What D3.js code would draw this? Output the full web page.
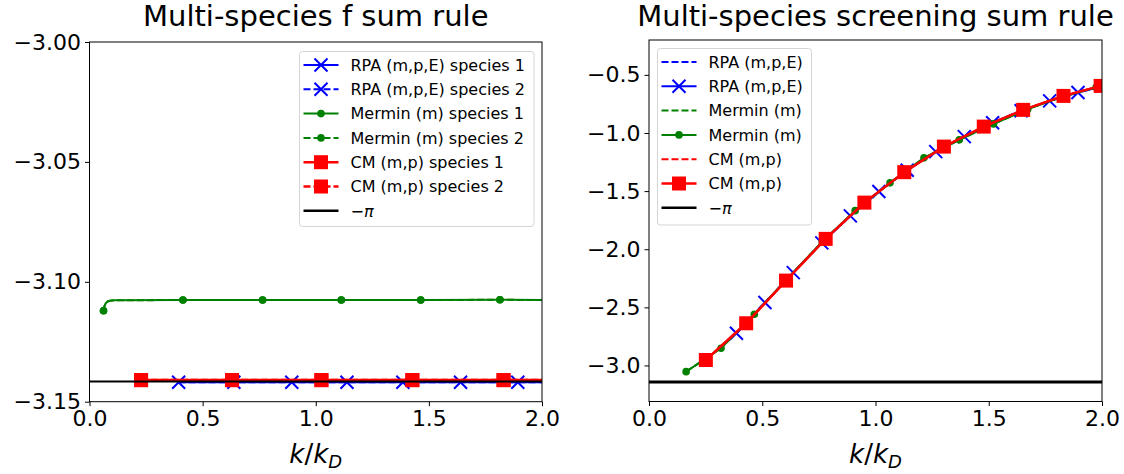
<!DOCTYPE html>
<html>
<head>
<meta charset="utf-8">
<script src="https://cdn.jsdelivr.net/npm/d3@7"></script>
<style>
  body { margin: 0; background: #fff; }
  svg { font-family: "DejaVu Sans", sans-serif; }
</style>
</head>
<body>
<svg id="chart" width="1124" height="474"></svg>
<script>
// ---- data: left panel (f sum rule) ----
var fRpaK = [0.394, 0.638, 0.894, 1.138, 1.385, 1.640, 1.893, 2.0];
var fRpaSp1 = [-3.1419, -3.1419, -3.1419, -3.1419, -3.1419, -3.1419, -3.1419, -3.1419];
var fRpaSp2 = [-3.1419, -3.1419, -3.1419, -3.1419, -3.1419, -3.1419, -3.1419, -3.1419];
var fRpaMarks1 = [0, 2, 4, 6];
var fRpaMarks2 = [1, 3, 5];

var fMerminK = [0.062, 0.066, 0.072, 0.080, 0.090, 0.110, 0.413, 0.765, 1.113, 1.464, 1.814, 2.0];
var fMerminSp1 = [-3.1121, -3.1101, -3.1089, -3.1082, -3.1079, -3.1077, -3.1076, -3.1076, -3.1076, -3.1076, -3.1075, -3.1076];
var fMerminSp2 = [-3.1121, -3.1101, -3.1089, -3.1082, -3.1079, -3.1077, -3.1076, -3.1076, -3.1076, -3.1076, -3.1075, -3.1076];
var fMerminMarks = [0, 6, 7, 8, 9, 10];

var fCmK = [0.228, 0.630, 1.025, 1.427, 1.830, 2.0];
var fCmSp1 = [-3.1410, -3.1410, -3.1410, -3.1410, -3.1410, -3.1410];
var fCmSp2 = [-3.1410, -3.1410, -3.1410, -3.1410, -3.1410, -3.1410];
var fCmMarks = [0, 1, 2, 3, 4];

// ---- data: right panel (screening sum rule) ----
var sRpaK = [0.386, 0.512, 0.637, 0.763, 0.889, 1.015, 1.140, 1.266, 1.392, 1.517, 1.643, 1.769, 1.894, 2.0];
var sRpa = [-2.723, -2.459, -2.201, -1.945, -1.713, -1.504, -1.320, -1.160, -1.031, -0.912, -0.808, -0.724, -0.652, -0.600];
var sRpaMarks = [0, 1, 2, 3, 4, 5, 6, 7, 8, 9, 10, 11, 12];

var sMerminK = [0.164, 0.318, 0.465, 0.615, 0.765, 0.910, 1.064, 1.214, 1.370, 1.521, 1.672, 1.823, 1.974, 2.0];
var sMermin = [-3.053, -2.852, -2.560, -2.245, -1.935, -1.668, -1.429, -1.214, -1.059, -0.922, -0.795, -0.689, -0.606, -0.596];
var sMerminMarks = [0, 1, 2, 3, 4, 5, 6, 7, 8, 9, 10, 11, 12];

var sCmK = [0.251, 0.429, 0.605, 0.780, 0.951, 1.127, 1.302, 1.478, 1.652, 1.830, 1.994];
var sCm = [-2.953, -2.637, -2.270, -1.911, -1.599, -1.337, -1.117, -0.945, -0.801, -0.681, -0.595];
var sCmMarks = [0, 1, 2, 3, 4, 5, 6, 7, 8, 9, 10];

var xTicks = [0, 0.5, 1.0, 1.5, 2.0];
var fYTicks = [-3.15, -3.10, -3.05, -3.00];
var sYTicks = [-3.0, -2.5, -2.0, -1.5, -1.0, -0.5];
var minusPi = -Math.PI;

var BLUE = "#0000ff", GREEN = "#008000", RED = "#ff0000";
var DASH = "7,3";

var svg = d3.select("#chart");

function drawMarker(g, type, x, y, color) {
    if (type == "x") {
        var s = 6.5;
        g.append("path")
            .attr("d", "M" + (x - s) + "," + (y - s) + "L" + (x + s) + "," + (y + s) +
                       "M" + (x - s) + "," + (y + s) + "L" + (x + s) + "," + (y - s))
            .attr("stroke", color).attr("stroke-width", 2).attr("fill", "none");
    } else if (type == "square") {
        g.append("rect")
            .attr("x", x - 7).attr("y", y - 7)
            .attr("width", 14).attr("height", 14)
            .attr("fill", color);
    } else if (type == "dot") {
        g.append("circle")
            .attr("cx", x).attr("cy", y).attr("r", 3.8)
            .attr("fill", color);
    }
}

function drawPanel(p) {
    var x = d3.scaleLinear().domain([0, 2]).range([p.left, p.right]);
    var y = d3.scaleLinear().domain(p.yDomain).range([p.bottom, p.top]);

    var clipId = "clip-" + p.id;
    svg.append("clipPath").attr("id", clipId)
        .append("rect")
        .attr("x", p.left).attr("y", p.top)
        .attr("width", p.right - p.left).attr("height", p.bottom - p.top);

    var plot = svg.append("g").attr("clip-path", "url(#" + clipId + ")");

    p.series.forEach(function(s) {
        var pts = s.k.map(function(k, i) { return [k, s.v[i]]; });
        var line = d3.line()
            .x(function(d) { return x(d[0]); })
            .y(function(d) { return y(d[1]); });
        if (s.hline) {
            plot.append("line")
                .attr("x1", p.left).attr("x2", p.right)
                .attr("y1", y(s.hline)).attr("y2", y(s.hline))
                .attr("stroke", s.color).attr("stroke-width", s.width);
            return;
        }
        plot.append("path")
            .attr("d", line(pts))
            .attr("fill", "none")
            .attr("stroke", s.color)
            .attr("stroke-width", s.width)
            .attr("stroke-dasharray", s.dash ? DASH : null);
        if (s.marker) {
            s.marks.forEach(function(i) {
                drawMarker(plot, s.marker, x(s.k[i]), y(s.v[i]), s.color);
            });
        }
    });

    // frame
    svg.append("rect")
        .attr("x", p.left).attr("y", p.top)
        .attr("width", p.right - p.left).attr("height", p.bottom - p.top)
        .attr("fill", "none").attr("stroke", "#000").attr("stroke-width", 1);

    var xAxis = svg.append("g")
        .attr("transform", "translate(0," + p.bottom + ")")
        .call(d3.axisBottom(x).tickValues(xTicks).tickFormat(d3.format(".1f")).tickSize(4.5).tickPadding(4));
    var yAxis = svg.append("g")
        .attr("transform", "translate(" + p.left + ",0)")
        .call(d3.axisLeft(y).tickValues(p.yTicks).tickFormat(d3.format(p.yFmt)).tickSize(4.5).tickPadding(4));
    [xAxis, yAxis].forEach(function(a) {
        a.select(".domain").remove();
        a.selectAll("text").attr("font-size", 22).attr("fill", "#000")
            .attr("font-family", "DejaVu Sans");
        a.selectAll("line").attr("stroke", "#000");
    });

    // title
    svg.append("text")
        .attr("x", (p.left + p.right) / 2).attr("y", 26)
        .attr("text-anchor", "middle")
        .attr("font-size", 29)
        .text(p.title);

    // x label k/k_D
    var lab = svg.append("text")
        .attr("x", (p.left + p.right) / 2).attr("y", 463)
        .attr("text-anchor", "middle")
        .attr("font-size", 26);
    lab.append("tspan").attr("font-style", "italic").text("k");
    lab.append("tspan").text("/");
    lab.append("tspan").attr("font-style", "italic").text("k");
    lab.append("tspan").attr("font-style", "italic").attr("font-size", 18).attr("dy", 5).text("D");

    // legend
    var lg = svg.append("g");
    lg.append("rect")
        .attr("x", p.legend.x).attr("y", p.legend.y)
        .attr("width", p.legend.w).attr("height", p.legend.h)
        .attr("rx", 3)
        .attr("fill", "#fff").attr("fill-opacity", 0.8)
        .attr("stroke", "#d5d5d5").attr("stroke-width", 1);
    p.series.forEach(function(s, i) {
        var cy = p.legend.y + 13.5 + i * 24.3;
        var hx0 = p.legend.x + 4, hx1 = p.legend.x + 39;
        lg.append("line")
            .attr("x1", hx0).attr("x2", hx1).attr("y1", cy).attr("y2", cy)
            .attr("stroke", s.color).attr("stroke-width", s.hline ? 2.5 : s.width)
            .attr("stroke-dasharray", s.dash ? DASH : null);
        if (s.marker) drawMarker(lg, s.marker, (hx0 + hx1) / 2, cy, s.color);
        lg.append("text")
            .attr("x", p.legend.x + 51).attr("y", cy)
            .attr("dy", "0.36em")
            .attr("font-size", 16)
            .attr("font-style", s.label == "−π" ? "italic" : null)
            .text(s.label);
    });
}

drawPanel({
    id: "f", left: 89.5, right: 542, top: 42, bottom: 401.7,
    yDomain: [-3.15, -3.00], yTicks: fYTicks, yFmt: ".2f",
    title: "Multi-species f sum rule",
    legend: { x: 299.5, y: 51.5, w: 234.5, h: 175 },
    series: [
        { label: "RPA (m,p,E) species 1", k: fRpaK, v: fRpaSp1, color: BLUE, width: 2, marker: "x", marks: fRpaMarks1 },
        { label: "RPA (m,p,E) species 2", k: fRpaK, v: fRpaSp2, color: BLUE, width: 2, dash: true, marker: "x", marks: fRpaMarks2 },
        { label: "Mermin (m) species 1", k: fMerminK, v: fMerminSp1, color: GREEN, width: 2, marker: "dot", marks: fMerminMarks },
        { label: "Mermin (m) species 2", k: fMerminK, v: fMerminSp2, color: GREEN, width: 2, dash: true, marker: "dot", marks: fMerminMarks },
        { label: "CM (m,p) species 1", k: fCmK, v: fCmSp1, color: RED, width: 2.5, marker: "square", marks: fCmMarks },
        { label: "CM (m,p) species 2", k: fCmK, v: fCmSp2, color: RED, width: 2.5, dash: true, marker: "square", marks: fCmMarks },
        { label: "−π", k: [], v: [], color: "#000", width: 2, hline: minusPi }
    ]
});

drawPanel({
    id: "s", left: 649, right: 1102, top: 40, bottom: 401.5,
    yDomain: [-3.31, -0.2], yTicks: sYTicks, yFmt: ".1f",
    title: "Multi-species screening sum rule",
    legend: { x: 657.5, y: 48.5, w: 154, h: 176.5 },
    series: [
        { label: "RPA (m,p,E)", k: sRpaK, v: sRpa, color: BLUE, width: 2, dash: true },
        { label: "RPA (m,p,E)", k: sRpaK, v: sRpa, color: BLUE, width: 2, marker: "x", marks: sRpaMarks },
        { label: "Mermin (m)", k: sMerminK, v: sMermin, color: GREEN, width: 2, dash: true },
        { label: "Mermin (m)", k: sMerminK, v: sMermin, color: GREEN, width: 2, marker: "dot", marks: sMerminMarks },
        { label: "CM (m,p)", k: sCmK, v: sCm, color: RED, width: 2, dash: true },
        { label: "CM (m,p)", k: sCmK, v: sCm, color: RED, width: 2.5, marker: "square", marks: sCmMarks },
        { label: "−π", k: [], v: [], color: "#000", width: 3, hline: minusPi }
    ]
});
</script>
</body>
</html>
